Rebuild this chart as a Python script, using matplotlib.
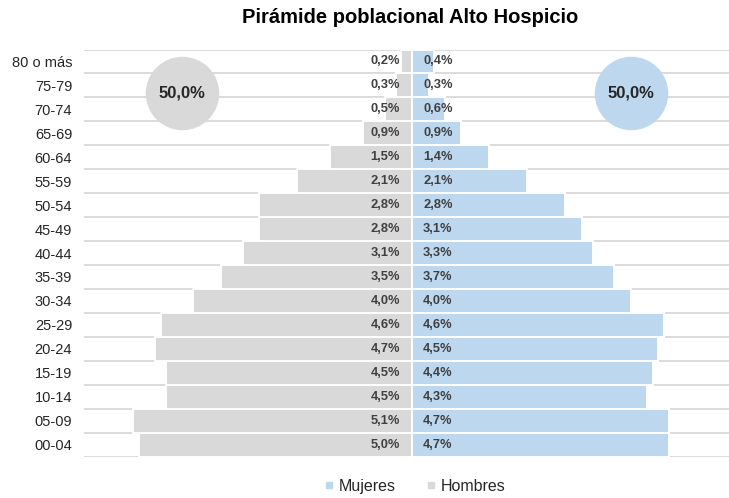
import matplotlib

matplotlib.use("Agg")
import matplotlib.pyplot as plt
from matplotlib.lines import Line2D
from matplotlib.transforms import offset_copy

# Porcentaje de la poblacion total por tramo de edad (de menor a mayor edad)
grupos = ["00-04", "05-09", "10-14", "15-19", "20-24", "25-29", "30-34", "35-39",
          "40-44", "45-49", "50-54", "55-59", "60-64", "65-69", "70-74", "75-79", "80 o más"]
hombres = [5.0, 5.1, 4.5, 4.5, 4.7, 4.6, 4.0, 3.5, 3.1, 2.8, 2.8, 2.1, 1.5, 0.9, 0.5, 0.3, 0.2]
mujeres = [4.7, 4.7, 4.3, 4.4, 4.5, 4.6, 4.0, 3.7, 3.3, 3.1, 2.8, 2.1, 1.4, 0.9, 0.6, 0.3, 0.4]
total_hombres = 50.0
total_mujeres = 50.0

GRIS = "#D9D9D9"
AZUL = "#BDD7EE"
TEXTO = "#404040"


def pct(v):
    return f"{v:.1f}%".replace(".", ",")


plt.rcParams["font.family"] = ["Liberation Sans", "DejaVu Sans"]

fig = plt.figure(figsize=(7.29, 4.98), dpi=100)
ax = fig.add_axes([0.1152, 0.0833, 0.8848, 0.8173])

pos = list(range(len(grupos)))

# lineas guia en los limites de cada tramo, por detras de las barras
for y in [p - 0.5 for p in pos] + [pos[-1] + 0.5]:
    ax.axhline(y, color=GRIS, lw=1.3, zorder=0)

ax.barh(pos, [-v for v in hombres], height=1.0, color=GRIS, edgecolor="white", lw=1.4, zorder=2)
ax.barh(pos, mujeres, height=1.0, color=AZUL, edgecolor="white", lw=1.4, zorder=2)

izq = offset_copy(ax.transData, fig=fig, x=-12, y=0, units="dots")
der = offset_copy(ax.transData, fig=fig, x=11, y=0, units="dots")
for p, h, m in zip(pos, hombres, mujeres):
    ax.text(0, p, pct(h), transform=izq, ha="right", va="center",
            fontsize=9.3, fontweight="bold", color=TEXTO, zorder=3)
    ax.text(0, p, pct(m), transform=der, ha="left", va="center",
            fontsize=9.3, fontweight="bold", color=TEXTO, zorder=3)

# burbujas con el total por sexo
ax.scatter([-4.2], [14.68], s=2800, color=GRIS, lw=0, zorder=4)
ax.scatter([4.0], [14.7], s=2800, color=AZUL, lw=0, zorder=4)
ax.text(-4.2, 14.68, pct(total_hombres), ha="center", va="center",
        fontsize=12, fontweight="bold", color="#262626", zorder=5)
ax.text(4.0, 14.7, pct(total_mujeres), ha="center", va="center",
        fontsize=12, fontweight="bold", color="#262626", zorder=5)

ax.set_xlim(-6.0, 5.795)
ax.set_ylim(-0.5, len(grupos) - 0.5)
ax.set_yticks(pos)
ax.set_yticklabels(grupos, fontsize=10.5, color="#262626")
ax.tick_params(axis="y", length=0, pad=8.5)
ax.set_xticks([])
for lado in ax.spines.values():
    lado.set_visible(False)

fig.text(0.563, 0.964, "Pirámide poblacional Alto Hospicio", ha="center", va="center",
         fontsize=14.5, fontweight="bold", color="black")

manijas = [
    Line2D([], [], marker="s", ls="", markersize=5, color=AZUL),
    Line2D([], [], marker="s", ls="", markersize=5, color=GRIS),
]
fig.legend(manijas, ["Mujeres", "Hombres"], loc="center", bbox_to_anchor=(0.569, 0.024),
           ncol=2, frameon=False, fontsize=11.5, handlelength=0.6, handletextpad=0.3,
           columnspacing=1.9, labelcolor="#262626")

fig.savefig("out.png", dpi=100)
